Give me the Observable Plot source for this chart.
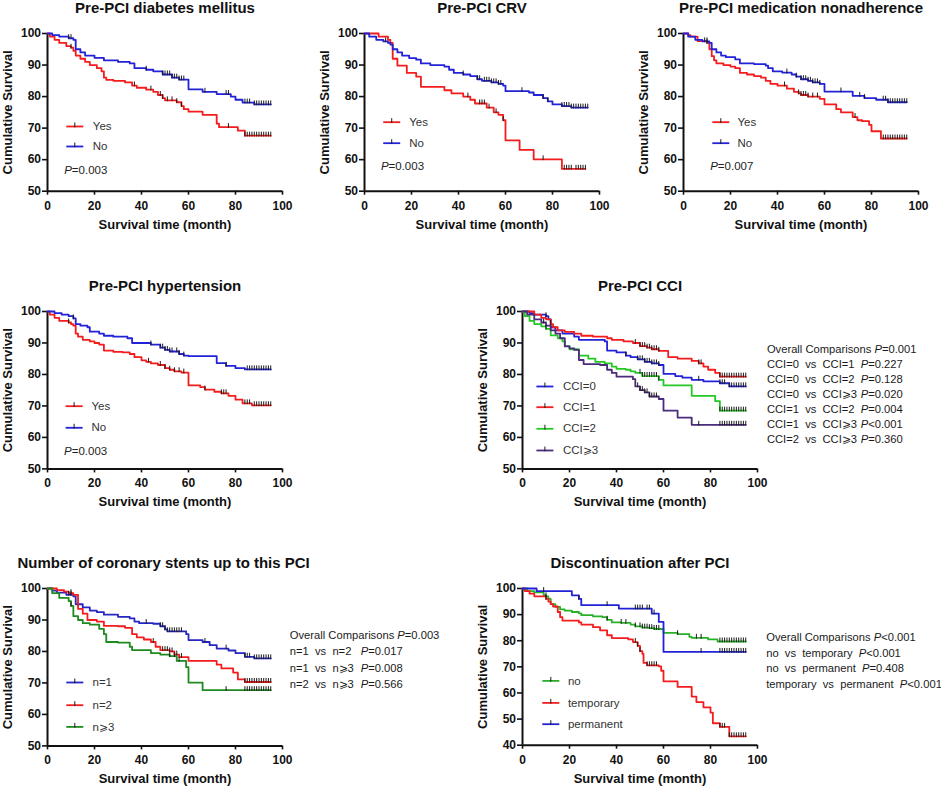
<!DOCTYPE html>
<html>
<head>
<meta charset="utf-8">
<script src="https://cdn.jsdelivr.net/npm/d3@7"></script>
<script src="https://cdn.jsdelivr.net/npm/@observablehq/plot@0.6"></script>
<style>
html,body{margin:0;padding:0;background:#fff;}
#root{position:relative;width:941px;height:789px;overflow:hidden;background:#fff;}
#root svg{position:absolute;}
</style>
</head>
<body>
<div id="root"></div>
<script>
// ---------------- DATA ----------------
const xTicks = [0, 20, 40, 60, 80, 100];
const yTicks50 = [50, 60, 70, 80, 90, 100];
const yTicks40 = [40, 50, 60, 70, 80, 90, 100];
const yesNo = ["Yes", "No"];

// Pre-PCI diabetes mellitus
const dmYes = [[0,100],[1,99],[3,98],[5,97],[8,96],[10,95.5],[11,94.5],[12,93],[14,92],[16,91],[18,90],[21,89],[23,88],[24,86],[25,85.3],[28,85],[33,84.5],[36,83.5],[38,82.8],[42,82.2],[45,81.5],[47,80.5],[49,79.5],[50,78.8],[55,78.2],[57,77],[58,76],[60,75.2],[66,74.2],[72,71.4],[73,70.3],[81,69.2],[84,67.6],[95,67.6]];
const dmNo = [[0,100],[2,99.5],[5,99],[9,98.5],[11,98],[12,95],[14,94],[16,93],[20,92.3],[24,91.5],[30,91],[35,90.5],[37,89],[42,88.5],[45,88],[49,87],[53,86],[56,85.4],[60,82.3],[66,81.5],[72,80.8],[78,80],[80,79],[83,78.1],[88,77.5],[95,77.5]];
const dmYesCens = [10,37,44,48,49,51,53,55,57,77,84,85,86,87,88,89,90,91,92,93,94,95];
const dmNoCens = [9,10,42,49,50,51,52,53,54,55,56,57,58,67,76,77,84,85,86,88,89,90,91,92,93,94,95];
const dmP = "=0.003";

// Pre-PCI CRV
const crvYes = [[0,100],[6,99],[10,98],[11,97],[12,92],[14,89.8],[18,87.5],[22,86.3],[24,83.1],[34,82],[37,81],[42,80],[45,79],[47,77.8],[52,76.5],[55,75],[57,74.2],[59,72.5],[60,66.1],[66,63.1],[72,60.1],[84,57.1],[94,57.1]];
const crvNo = [[0,100],[2,99],[5,98],[8,97.5],[10,97],[11,96.5],[12,95],[14,94],[16,93],[19,92.2],[22,91.7],[24,90.5],[28,90],[34,89.5],[36,88.5],[38,87.5],[42,87],[45,86.5],[48,85.5],[50,85],[54,84.5],[57,84],[59,83.5],[60,81.7],[70,81.3],[72,80.5],[76,79.5],[78,78.5],[80,77.5],[84,77],[88,76.5],[95,76.5]];
const crvYesCens = [44,49,50,51,53,56,59,76,85,86,87,88,90,91,92,93,94];
const crvNoCens = [9,42,48,49,51,52,53,54,55,56,57,58,67,76,78,84,85,86,87,88,89,90,91,92,93,94,95];
const crvP = "=0.003";

// Pre-PCI medication nonadherence
const naYes = [[0,100],[2,99.5],[3,99],[6,97.6],[10,97],[11,95],[12,92.8],[13,91.5],[14,90.5],[17,90],[20,89.5],[22,89],[24,87.5],[27,87],[30,86.5],[33,86],[35,85],[37,84],[40,83.5],[44,82.5],[47,81.5],[49,81],[50,80.5],[53,80],[58,79.3],[60,77.5],[65,76],[67,75],[72,73.5],[74,72.5],[76,72.2],[79,71],[80,69],[84,66.7],[95,66.7]];
const naNo = [[0,100],[2,99],[5,98],[8,97.5],[11,97],[12,95],[14,94],[16,93],[18,92.5],[22,91.8],[24,90.5],[30,90.3],[35,89.8],[36,89],[38,88],[42,87.6],[46,87],[48,86.3],[50,85.5],[53,85],[55,84.5],[58,84],[60,81.6],[72,80.2],[77,79.5],[82,79],[87,78.2],[95,78.2]];
const naYesCens = [10,43,49,50,51,52,53,55,57,73,85,86,87,88,89,90,91,92,93,94,95];
const naNoCens = [9,10,44,48,50,51,52,53,54,55,56,57,58,67,75,77,85,86,87,88,89,90,91,92,93,94,95];
const naP = "=0.007";

// Pre-PCI hypertension
const htYes = [[0,100],[1,99],[3,98],[5,97],[9,96.5],[10,96],[11,95.5],[12,93],[13,92],[15,91],[18,90.5],[20,90],[22,89.5],[24,87.6],[28,87.2],[32,87],[35,86.5],[37,85.5],[40,84.5],[42,84],[44,83.5],[47,83],[50,82],[52,81.5],[54,81],[57,80.6],[60,76.5],[65,76],[67,75.2],[71,74.5],[74,74],[77,73.2],[80,72],[83,70.8],[87,70.2],[95,70.2]];
const htNo = [[0,100],[3,99.5],[6,99],[9,98.5],[11,97.8],[12,96],[14,95.5],[17,95],[18,93.6],[22,93],[24,92.3],[28,92],[34,91.5],[36,90],[44,89.5],[48,88.5],[50,87.8],[52,87.3],[56,86.5],[58,86],[60,85.8],[72,83.6],[76,82.7],[80,82],[84,81.6],[95,81.6]];
const htYesCens = [9,43,48,50,52,54,56,58,67,74,75,76,84,85,86,88,89,90,91,92,93,94,95];
const htNoCens = [11,44,48,49,50,51,52,53,55,56,58,76,85,86,87,88,89,90,91,92,93,94,95];
const htP = "=0.003";

// Pre-PCI CCI
const cciLabels = ["CCI=0", "CCI=1", "CCI=2", "CCI\u2A7E3"];
const cci0 = [[0,100],[3,99.5],[5,99],[10,98.5],[11,97.5],[12,95],[14,94],[17,93],[22,92],[24,91],[35,90.5],[36,87.6],[40,87],[44,86],[46,85.5],[49,84.8],[52,84],[55,83.5],[58,83],[60,80.2],[65,79.5],[68,79],[72,78.3],[77,77.8],[84,77.2],[88,76.2],[95,76.2]];
const cci1 = [[0,100],[5,99],[8,98],[10,97.5],[12,96],[13,95],[15,94],[18,93.5],[22,93],[25,92.3],[30,92],[36,91.5],[38,91],[43,90.5],[47,90],[50,89],[53,88.5],[55,88],[58,87.5],[62,85.5],[66,85],[72,84.3],[75,83.5],[77,82.5],[79,81.5],[82,80.5],[84,79.3],[95,79.3]];
const cci2 = [[0,100],[1,98.5],[3,97],[5,96],[8,95.3],[10,94.5],[12,92.4],[15,91.5],[17,90.5],[18,89],[20,88],[24,86],[28,85],[31,84],[35,83.5],[38,82.5],[40,81.8],[44,81.5],[46,81],[48,80.5],[51,79.5],[58,78.3],[60,76.5],[72,73.2],[82,71.5],[84,68.5],[95,68.5]];
const cci3 = [[0,100],[2,99],[5,97.5],[8,96.5],[10,95.5],[12,94],[14,93],[16,91.5],[18,88.9],[20,88.3],[22,87.8],[24,84.6],[26,83.3],[33,83],[36,81.5],[38,80.5],[40,79.3],[47,78.5],[48,76.2],[50,75],[52,74.3],[54,73],[58,72.2],[60,68.5],[66,66.3],[72,64],[95,64]];
const cci0Cens = [10,44,49,50,51,52,53,54,55,56,57,58,75,84,85,86,88,89,90,91,92,93,94,95];
const cci1Cens = [12,48,50,51,52,53,54,55,56,57,58,75,76,84,85,86,87,88,89,90,91,92,93,94,95];
const cci2Cens = [10,50,51,52,53,54,55,56,57,58,84,85,86,87,88,89,90,91,92,93,94,95];
const cci3Cens = [9,49,50,51,52,53,54,55,56,57,75,84,85,86,87,88,89,90,91,92,93,94,95];
const cciOverallP = "=0.001";
const cciPairs = [["CCI=0","CCI=1","=0.227"],["CCI=0","CCI=2","=0.128"],["CCI=0","CCI\u2A7E3","=0.020"],["CCI=1","CCI=2","=0.004"],["CCI=1","CCI\u2A7E3","<0.001"],["CCI=2","CCI\u2A7E3","=0.360"]];

// Number of coronary stents
const stLabels = ["n=1", "n=2", "n\u2A7E3"];
const st1 = [[0,100],[2,99.3],[4,98.7],[8,98],[11,97.5],[12,95],[15,94],[18,93],[21,92.5],[24,91.7],[30,91],[35,90.5],[37,89.5],[39,89],[45,88.8],[48,88],[50,87],[51,86.4],[59,85.5],[60,83.6],[66,83],[69,82],[72,80.9],[77,80.3],[80,79.5],[84,78.3],[88,77.8],[95,77.8]];
const st2 = [[0,100],[4,99.5],[7,99],[9,98.5],[11,98],[13,93.5],[15,92],[17,90],[21,89.5],[24,88.1],[30,88],[33,87.5],[36,85.5],[38,84.5],[41,83.8],[44,83],[46,81.5],[48,80.4],[52,80],[54,79],[56,78.2],[60,77],[72,75.8],[74,74.6],[79,73.3],[81,71.1],[84,70.3],[95,70.3]];
const st3 = [[0,100],[2,98.5],[5,97],[9,96],[10,94.5],[11,91.2],[13,90],[15,89],[18,88.5],[22,87.2],[24,85.5],[25,83],[30,82.8],[35,81.5],[36,80.4],[44,79.5],[48,79],[52,78.5],[55,77],[59,75],[60,70.1],[66,67.7],[95,67.7]];
const st1Cens = [9,10,42,48,49,50,51,52,53,54,55,56,57,67,76,84,85,86,88,89,90,91,92,93,94,95];
const st2Cens = [10,45,49,50,51,52,53,55,57,84,85,86,87,88,89,90,91,92,93,94,95];
const st3Cens = [10,52,54,56,76,84,85,86,87,88,89,90,91,92,93,94,95];
const stOverallP = "=0.003";
const stPairs = [["n=1","n=2","=0.017"],["n=1","n\u2A7E3","=0.008"],["n=2","n\u2A7E3","=0.566"]];

// Discontinuation after PCI
const dcLabels = ["no", "temporary", "permanent"];
const dcNo = [[0,100],[2,99],[5,98.5],[9,97.5],[10,97],[11,96],[12,94],[14,93],[16,92],[18,91.5],[21,91],[24,90.5],[25,89.8],[30,89.3],[34,89],[36,88],[38,87],[42,86.8],[46,86.2],[48,85.5],[51,85],[54,84.8],[56,84.5],[60,83],[66,82.5],[71,81.5],[72,81.1],[79,80.5],[83,79.7],[95,79.7]];
const dcTemp = [[0,100],[1,99],[3,98],[5,97],[10,96],[11,95],[12,94],[13,93.1],[15,91],[16,89],[17,87.7],[24,87],[25,86.2],[30,85.2],[33,84],[36,82.1],[38,81],[45,80.5],[47,79.5],[49,78],[50,76],[51,75],[51.5,71.5],[53,70.6],[58,70.2],[59,68.5],[60,64.4],[66,62.3],[72,58.6],[74,56.5],[77,54.5],[80,52.5],[81,48.4],[84,47],[88,43.4],[95,43.4]];
const dcPerm = [[0,100],[6,99],[21,97.4],[24,96],[25,93.6],[41,92.3],[55,90.4],[58,87.2],[60,75.7],[95,75.7]];
const dcNoCens = [10,36,42,44,48,50,51,52,53,54,55,56,57,58,66,74,76,84,85,86,87,88,89,90,91,92,93,94,95];
const dcTempCens = [10,48,49,50,53,54,55,56,57,84,85,86,88,89,90,91,92,93,94,95];
const dcPermCens = [9,24,36,48,49,50,51,53,54,56,76,84,85,86,87,88,89,90,91,92,93,94,95];
const dcOverallP = "<0.001";
const dcPairs = [["no","temporary","<0.001"],["no","permanent","=0.408"],["temporary","permanent","<0.001"]];

const titles = ["Pre-PCI diabetes mellitus","Pre-PCI CRV","Pre-PCI medication nonadherence","Pre-PCI hypertension","Pre-PCI CCI","Number of coronary stents up to this PCI","Discontinuation after PCI"];
const xLabel = "Survival time (month)";
const yLabel = "Cumulative Survival";
const overallLabel = "Overall Comparisons";

// ---------------- STYLE / LAYOUT ----------------
const FONT = '"Liberation Sans", Arial, Helvetica, sans-serif';
const RED = "#f41c1c", BLUE = "#2222d8", BLUE2 = "#2626c4", GREEN = "#24c824", DGREEN = "#1f8a1f", MGREEN = "#29b029", PURPLE = "#4b2b7c";
const NB = "\u00a0";
const cv = document.createElement("canvas").getContext("2d");
function tw(s, size, italic) { cv.font = (italic ? "italic " : "") + size + "px " + FONT; return cv.measureText(s).width; }
function stepAt(steps, t) { let v = steps[0][1]; for (const d of steps) { if (d[0] <= t) v = d[1]; else break; } return v; }
const tickSym = {draw(ctx) { ctx.moveTo(0, 0.8); ctx.lineTo(0, -4); }};
const swatchSym = {draw(ctx) { ctx.moveTo(-8.5, 0); ctx.lineTo(8.5, 0); }};
const CS = 11.2; // comparison font size
const LS = 11.5; // legend font size

function compRows(pairs, overallP, fixedCol, sep) {
  const rows = [{prefix: overallLabel, p: overallP, pCol: tw(overallLabel + NB, CS)}];
  for (const [a, b, p] of pairs) {
    const prefix = a + NB + NB + "vs" + NB + NB + b;
    rows.push({prefix, p, pCol: fixedCol != null ? fixedCol : tw(prefix + sep, CS)});
  }
  return rows;
}

const panels = [
  {title: titles[0], x0: 46.7, y0: 33, fh: 157.7, yTicks: yTicks50, mr: 12,
   series: [{label: yesNo[0], steps: dmYes, cens: dmYesCens, color: RED}, {label: yesNo[1], steps: dmNo, cens: dmNoCens, color: BLUE}],
   legend: {sx: 27.3, tx: 45.3, ys: [93, 113]}, p: {text: dmP, x: 16.7, y: 137}},
  {title: titles[1], x0: 364.3, y0: 33, fh: 157.7, yTicks: yTicks50, mr: 12,
   series: [{label: yesNo[0], steps: crvYes, cens: crvYesCens, color: RED}, {label: yesNo[1], steps: crvNo, cens: crvNoCens, color: BLUE}],
   legend: {sx: 27.2, tx: 44.7, ys: [88.7, 109.7]}, p: {text: crvP, x: 16.4, y: 132.7}},
  {title: titles[2], x0: 683.3, y0: 33, fh: 157.7, yTicks: yTicks50, mr: 12,
   series: [{label: yesNo[0], steps: naYes, cens: naYesCens, color: RED}, {label: yesNo[1], steps: naNo, cens: naNoCens, color: BLUE}],
   legend: {sx: 37.3, tx: 54, ys: [88.7, 109.7]}, p: {text: naP, x: 26.7, y: 132.7}},
  {title: titles[3], x0: 46.7, y0: 311, fh: 157.4, yTicks: yTicks50, mr: 12,
   series: [{label: yesNo[0], steps: htYes, cens: htYesCens, color: RED}, {label: yesNo[1], steps: htNo, cens: htNoCens, color: BLUE}],
   legend: {sx: 26.6, tx: 44, ys: [94.7, 116.3]}, p: {text: htP, x: 16.6, y: 139.7}},
  {title: titles[4], x0: 522.3, y0: 311, fh: 157.4, yTicks: yTicks50, mr: 183,
   series: [{label: cciLabels[0], steps: cci0, cens: cci0Cens, color: BLUE}, {label: cciLabels[1], steps: cci1, cens: cci1Cens, color: RED},
            {label: cciLabels[2], steps: cci2, cens: cci2Cens, color: GREEN}, {label: cciLabels[3], steps: cci3, cens: cci3Cens, color: PURPLE}],
   legend: {sx: 22.4, tx: 40.4, ys: [75, 95.7, 117.3, 139]},
   comps: {gap: 9.4, y0: 37.8, dy: 15.1, rows: () => compRows(cciPairs, cciOverallP, tw("CCI=0" + NB + NB + "vs" + NB + NB + "CCI=1" + NB + NB, CS))}},
  {title: titles[5], titleLeft: -30, x0: 46.7, y0: 588.3, fh: 157.4, yTicks: yTicks50, mr: 180,
   series: [{label: stLabels[0], steps: st1, cens: st1Cens, color: BLUE2}, {label: stLabels[1], steps: st2, cens: st2Cens, color: RED}, {label: stLabels[2], steps: st3, cens: st3Cens, color: DGREEN}],
   legend: {sx: 27.3, tx: 45, ys: [94, 116.7, 138.4]},
   comps: {gap: 7.3, y0: 46.5, dy: 16.5, rows: () => compRows(stPairs, stOverallP, tw("n=1" + NB + NB + "vs" + NB + NB + "n=2" + NB + NB + NB, CS))}},
  {title: titles[6], x0: 522.3, y0: 588.3, fh: 156.7, yTicks: yTicks40, mr: 183,
   series: [{label: dcLabels[0], steps: dcNo, cens: dcNoCens, color: MGREEN}, {label: dcLabels[1], steps: dcTemp, cens: dcTempCens, color: RED}, {label: dcLabels[2], steps: dcPerm, cens: dcPermCens, color: BLUE}],
   legend: {sx: 28.3, tx: 45.4, ys: [92.4, 114.4, 135.7]},
   comps: {gap: 8.7, y0: 49, dy: 15.5, rows: () => compRows(dcPairs, dcOverallP, null, NB + NB)}}
];

// ---------------- DRAW ----------------
const root = document.getElementById("root");
const ML = 47, MT = 32, MB = 44, FW = 235;

for (const P of panels) {
  const marks = [];
  const ink = "#111";
  marks.push(Plot.axisY({ticks: P.yTicks, tickSize: 5, tickPadding: 1.5, fontSize: 12, fontWeight: "bold", label: null, strokeWidth: 1.6, stroke: ink, fill: ink}));
  marks.push(Plot.axisX({ticks: xTicks, tickSize: 4, tickPadding: 6, fontSize: 12, fontWeight: "bold", label: null, strokeWidth: 1.6, stroke: ink, fill: ink}));
  marks.push(Plot.ruleX([0], {stroke: ink, strokeWidth: 2}));
  marks.push(Plot.ruleY([P.yTicks[0]], {stroke: ink, strokeWidth: 2}));

  for (const s of P.series) {
    marks.push(Plot.line(s.steps, {x: d => d[0], y: d => d[1], curve: "step-after", stroke: s.color, strokeWidth: 1.8}));
  }
  for (const s of P.series) {
    marks.push(Plot.dot(s.cens, {x: d => d, y: d => stepAt(s.steps, d), symbol: tickSym, r: 3, fill: "none", stroke: "#1a1a1a", strokeWidth: 1}));
  }

  // title
  if (P.titleLeft != null) {
    marks.push(Plot.text([P.title], {text: d => d, frameAnchor: "top-left", dx: P.titleLeft, dy: -20.3, textAnchor: "start", lineAnchor: "bottom", fontSize: 15, fontWeight: "bold", fill: ink}));
  } else {
    marks.push(Plot.text([P.title], {text: d => d, frameAnchor: "top", dy: -20, textAnchor: "middle", lineAnchor: "bottom", fontSize: 15, fontWeight: "bold", fill: ink}));
  }
  // axis titles
  marks.push(Plot.text([xLabel], {text: d => d, frameAnchor: "bottom", dy: 37.5, lineAnchor: "bottom", fontSize: 13, fontWeight: "bold", fill: ink}));
  marks.push(Plot.text([yLabel], {text: d => d, frameAnchor: "left", dx: -39.2, rotate: -90, lineAnchor: "middle", textAnchor: "middle", fontSize: 13, fontWeight: "bold", fill: ink}));

  // legend
  P.series.forEach((s, i) => {
    const dy = P.legend.ys[i];
    marks.push(Plot.dot([s.label], {frameAnchor: "top-left", dx: P.legend.sx, dy, symbol: swatchSym, r: 3, fill: "none", stroke: s.color, strokeWidth: 1.8}));
    marks.push(Plot.dot([s.label], {frameAnchor: "top-left", dx: P.legend.sx, dy, symbol: tickSym, r: 3, fill: "none", stroke: "#1a1a1a", strokeWidth: 1}));
    marks.push(Plot.text([s.label], {text: d => d, frameAnchor: "top-left", dx: P.legend.tx, dy, textAnchor: "start", lineAnchor: "middle", fontSize: LS, fill: "#333"}));
  });

  // P value
  if (P.p) {
    const base = {text: d => d, frameAnchor: "top-left", dy: P.p.y, textAnchor: "start", lineAnchor: "middle", fontSize: LS, fill: "#222"};
    marks.push(Plot.text(["P"], {...base, dx: P.p.x, fontStyle: "italic"}));
    marks.push(Plot.text([P.p.text], {...base, dx: P.p.x + tw("P", LS, true)}));
  }

  // comparisons
  if (P.comps) {
    P.comps.rows().forEach((r, i) => {
      const base = {text: d => d, frameAnchor: "top-right", dy: P.comps.y0 + i * P.comps.dy, textAnchor: "start", lineAnchor: "middle", fontSize: CS, fill: "#1a1a1a"};
      const x0 = P.comps.gap;
      marks.push(Plot.text([r.prefix], {...base, dx: x0}));
      marks.push(Plot.text(["P"], {...base, dx: x0 + r.pCol, fontStyle: "italic"}));
      marks.push(Plot.text([r.p], {...base, dx: x0 + r.pCol + tw("P", CS, true)}));
    });
  }

  const svg = Plot.plot({
    width: ML + FW + P.mr,
    height: MT + P.fh + MB,
    marginLeft: ML, marginRight: P.mr, marginTop: MT, marginBottom: MB,
    x: {domain: [0, 100]},
    y: {domain: [P.yTicks[0], 100]},
    style: {fontFamily: FONT, background: "transparent", overflow: "visible", color: "#111"},
    marks
  });
  svg.style.position = "absolute";
  svg.style.left = (P.x0 - ML) + "px";
  svg.style.top = (P.y0 - MT) + "px";
  root.appendChild(svg);
}
</script>
</body>
</html>
